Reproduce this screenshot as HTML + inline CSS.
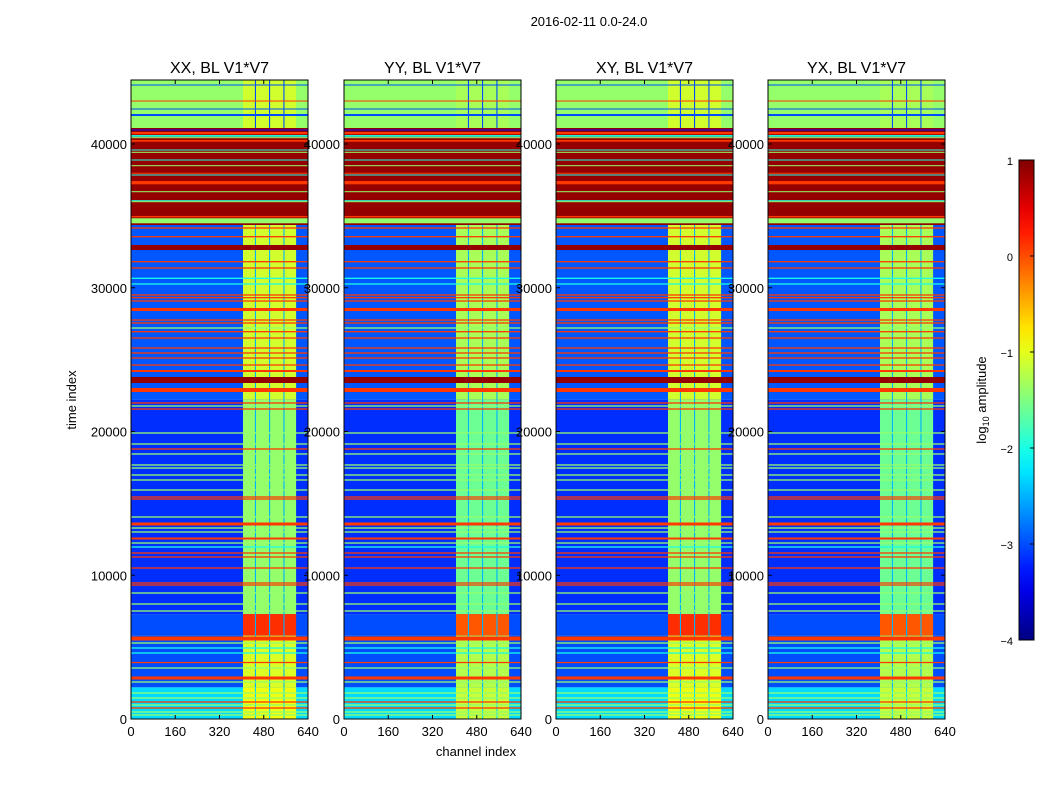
<!DOCTYPE html>
<html><head><meta charset="utf-8">
<style>
html,body{margin:0;padding:0;background:#fff;}
svg{display:block;font-family:"Liberation Sans",sans-serif;}
</style></head>
<body>
<svg id="fig" width="1050" height="800" viewBox="0 0 1050 800">
<rect x="0" y="0" width="1050" height="800" fill="#fff"/>
<text x="589" y="26" font-size="13" text-anchor="middle">2016-02-11 0.0-24.0</text>
<text x="476" y="756" font-size="13" text-anchor="middle">channel index</text>
<text x="76" y="400" font-size="13" text-anchor="middle" transform="rotate(-90 76 400)">time index</text>
<g id="panels"></g>
<g id="cbar"></g>
</svg>
<script>
// ---- data ----
const panelNames = ["XX, BL V1*V7", "YY, BL V1*V7", "XY, BL V1*V7", "YX, BL V1*V7"];
const panelBandOffset = [0, -0.2, 0, -0.2];
const regionLow  = [41113, 34365, 22200, 7300, 5800, 2200, 0];
const regionHigh = [44452, 41113, 34365, 22200, 7300, 5800, 2200];
const regionBg   = [-1.4, 0.9, -2.95, -3.15, -3.0, -3.0, -2.3];
const regionBand = [-1.1, 0.9, -1.1, -1.4, 0.15, -1.05, -0.95];
const regionGap  = [-3.0, 0.9, -2.5, -2.5, -2.5, -2.5, -2.3];
const bandStart = 405, bandEnd = 597;
const gapChannels = [448, 499, 551];
const gapWidth = 4;
const stripeT = [44104,42991,42435,42017,
 40974,40755,40560,40438,40220,39583,39423,38887,38491,37962,37843,37310,36681,36056,35987,34944,34658,
 34156,33551,32800,31812,31374,30657,30261,29496,29308,29078,28487,27756,27548,27200,26943,26504,25809,25461,25113,24626,24209,23583,22887,
 21983,21774,21565,19896,19130,18783,18435,17670,17461,16974,16626,15930,15443,15304,14052,13565,13287,13009,12556,12243,11965,11548,11270,10504,9461,9322,8765,8000,7513,
 5600,5287,4939,4591,3930,3548,2852,2574,1809,1461,1183,974,765,487,278];
const stripeSpan = [70,70,70,140,
 70,160,120,70,120,70,70,70,70,70,70,230,70,70,70,100,350,
 90,90,348,90,90,90,90,90,90,90,209,90,90,90,90,90,90,90,90,90,140,417,278,
 90,90,90,90,90,90,90,90,90,90,90,90,90,90,90,209,90,90,140,90,90,90,90,90,90,90,90,90,90,
 278,90,90,90,90,90,209,90,90,90,90,90,90,90,90];
const stripeVal = [-3,0.1,-3,-3,
 -3.3,0.1,-2,-1.4,0.1,-2,-1.4,-2,-1.4,0.1,-2,0.1,-1.4,-2,-1.4,0.1,-1.4,
 0.1,0.1,0.9,0.1,0.1,-2,-2,0.1,0.1,0.1,0.1,0.1,0.1,-1.4,0.1,0.1,0.1,0.1,0.1,0.1,0.1,0.9,0.1,
 0.1,-1.4,0.1,-1.4,-1.4,0.1,-1.4,-1.4,-1.4,-1.4,-1.4,-1.4,0.1,0.1,-1.4,0.1,-1.4,-1.4,0.1,-1.4,-2,0.1,0.1,0.1,0.1,0.1,-1.4,-1.4,-1.4,
 0.1,-1.4,-2,-2,0.1,-1.4,0.1,-1.4,-1.4,-1.4,0.1,-1.4,0.1,-1.4,-1.4];
const xTicks = [0,160,320,480,640];
const yTicks = [0,10000,20000,30000,40000];
const cbTicks = [1,0,-1,-2,-3,-4];
const cbLabels = ["1","0","\u22121","\u22122","\u22123","\u22124"];

// ---- layout / scales ----
const NS = "http://www.w3.org/2000/svg";
const panelLeft = [131,344,556,768];
const PW = 177, PT = 80, PB = 719;
const VMIN = -4, VMAX = 1;
function yS(t){ return PB - t/10000*143.75; }
function xS(p,ch){ return panelLeft[p] + ch/640*PW; }
function clip01(v){ return Math.max(0, Math.min(1, v)); }
function jet(v){
  const x = clip01((v-VMIN)/(VMAX-VMIN));
  const r = clip01(1.5-Math.abs(4*x-3)), g = clip01(1.5-Math.abs(4*x-2)), b = clip01(1.5-Math.abs(4*x-1));
  return "rgb("+Math.round(r*255)+","+Math.round(g*255)+","+Math.round(b*255)+")";
}
function mk(tag, attrs, parent){
  const e = document.createElementNS(NS, tag);
  for (const k in attrs) e.setAttribute(k, attrs[k]);
  parent.appendChild(e); return e;
}
const panelsG = document.getElementById("panels");
const defs = mk("defs", {}, document.getElementById("fig"));

for (let p=0; p<4; p++){
  const g = mk("g", {}, panelsG);
  
  
  const cp = mk("clipPath", {id:"cp"+p}, defs);
  mk("rect", {x:panelLeft[p], y:PT, width:PW, height:PB-PT}, cp);
  const hm = mk("g", {"clip-path":"url(#cp"+p+")"}, g);
  
  
  for (let r=0; r<regionLow.length; r++){
    const y0 = yS(regionHigh[r]), y1 = yS(regionLow[r]);
    const bg = mk("rect", {x:xS(p,0), y:y0, width:xS(p,640)-xS(p,0), height:y1-y0, fill:jet(regionBg[r])}, hm);
    
    
    const bv = r===1 ? regionBand[r] : regionBand[r] + panelBandOffset[p];
    const bd = mk("rect", {x:xS(p,bandStart), y:y0, width:xS(p,bandEnd)-xS(p,bandStart), height:y1-y0, fill:jet(bv)}, hm);
    
    
    for (let k=0; k<gapChannels.length; k++){
      const gp = mk("rect", {x:xS(p,gapChannels[k]), y:y0, width:xS(p,gapChannels[k]+gapWidth)-xS(p,gapChannels[k]), height:y1-y0, fill:jet(regionGap[r])}, hm);
      
      
    }
  }
  for (let s=0; s<stripeT.length; s++){
    const y0 = yS(stripeT[s]+stripeSpan[s]/2), y1 = yS(stripeT[s]-stripeSpan[s]/2);
    const st = mk("rect", {x:xS(p,0), y:y0, width:xS(p,640)-xS(p,0), height:y1-y0, fill:jet(stripeVal[s])}, hm);
    
    
  }
  const fr = mk("rect", {x:panelLeft[p], y:PT, width:PW, height:PB-PT, fill:"none", stroke:"#000", "stroke-width":1}, g);
  
  
  const tt = mk("text", {x:panelLeft[p]+PW/2, y:73, "font-size":16, "text-anchor":"middle"}, g);
  tt.textContent = panelNames[p];
  
  
  for (const v of xTicks){
    const x = xS(p,v);
    mk("line", {x1:x, x2:x, y1:PB, y2:PB-4, stroke:"#000"}, g);
    mk("line", {x1:x, x2:x, y1:PT, y2:PT+4, stroke:"#000"}, g);
    const t = mk("text", {x:x, y:736, "font-size":13, "text-anchor":"middle"}, g);
    t.textContent = v;
    
    
  }
  for (const v of yTicks){
    const y = yS(v);
    mk("line", {x1:panelLeft[p], x2:panelLeft[p]+4, y1:y, y2:y, stroke:"#000"}, g);
    mk("line", {x1:panelLeft[p]+PW, x2:panelLeft[p]+PW-4, y1:y, y2:y, stroke:"#000"}, g);
    const t = mk("text", {x:panelLeft[p]-4, y:y+5, "font-size":13, "text-anchor":"end"}, g);
    t.textContent = v;
    
    
  }
}

// colorbar
const cb = document.getElementById("cbar");
const CBX = 1019, CBW = 15, CBT = 160, CBB = 640;
function cbY(v){ return CBB - (v-VMIN)/(VMAX-VMIN)*(CBB-CBT); }
const grad = mk("linearGradient", {id:"jetg", x1:0, y1:1, x2:0, y2:0}, defs);
for (let i=0;i<=20;i++){
  mk("stop", {offset:(i/20), "stop-color":jet(VMIN+(VMAX-VMIN)*i/20)}, grad);
}
const cr = mk("rect", {x:CBX, y:CBT, width:CBW, height:CBB-CBT, fill:"url(#jetg)", stroke:"#000"}, cb);


for (let i=0;i<cbTicks.length;i++){
  const y = cbY(cbTicks[i]);
  mk("line", {x1:CBX+CBW-4, x2:CBX+CBW, y1:y, y2:y, stroke:"#000"}, cb);
  const t = mk("text", {x:1013, y:y+5, "font-size":11, "text-anchor":"end"}, cb);
  t.textContent = cbLabels[i];
  
  
}
const cl = mk("text", {x:986, y:400, "font-size":13, "text-anchor":"middle", transform:"rotate(-90 986 400)"}, cb);
cl.innerHTML = 'log<tspan font-size="9" dy="3">10</tspan><tspan dy="-3"> amplitude</tspan>';


</script>
</body></html>
